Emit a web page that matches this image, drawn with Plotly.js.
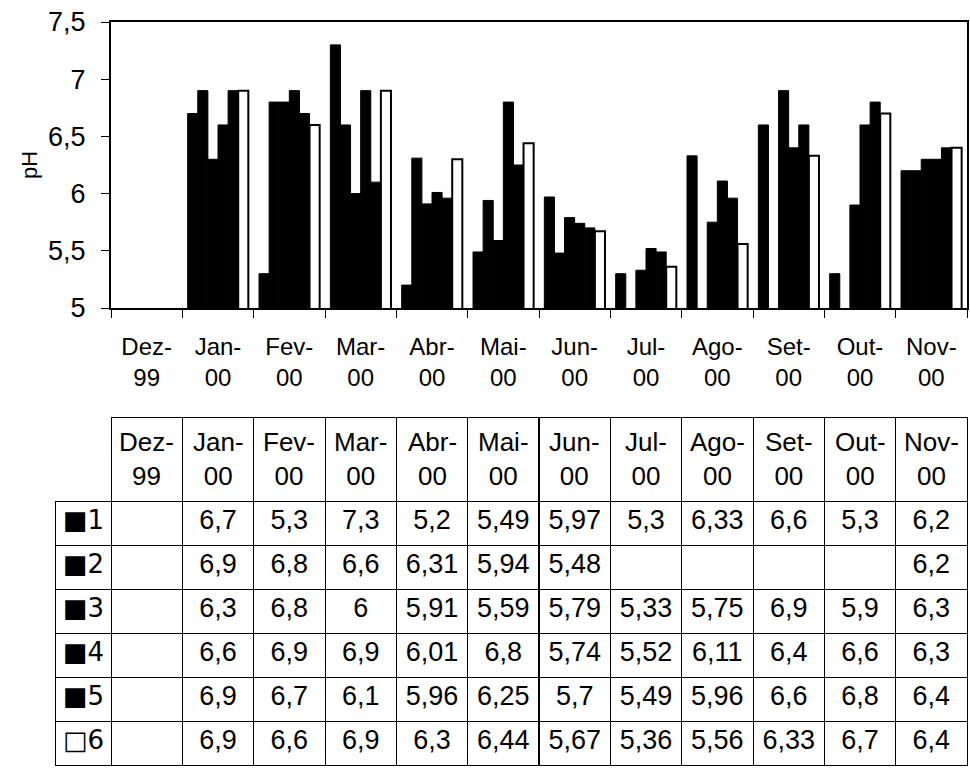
<!DOCTYPE html>
<html>
<head>
<meta charset="utf-8">
<script src="https://cdn.plot.ly/plotly-3.0.1.min.js"></script>
<style>html,body{margin:0;padding:0;background:#fff;}</style>
</head>
<body>
<div id="chart" style="width:970px;height:768px;"></div>
<script>
// ---------- data ----------
const months = ['Dez-99','Jan-00','Fev-00','Mar-00','Abr-00','Mai-00','Jun-00','Jul-00','Ago-00','Set-00','Out-00','Nov-00'];
const seriesNames = ['1','2','3','4','5','6'];
const s1 = [null, 6.7, 5.3, 7.3, 5.2, 5.49, 5.97, 5.3, 6.33, 6.6, 5.3, 6.2];
const s2 = [null, 6.9, 6.8, 6.6, 6.31, 5.94, 5.48, null, null, null, null, 6.2];
const s3 = [null, 6.3, 6.8, 6, 5.91, 5.59, 5.79, 5.33, 5.75, 6.9, 5.9, 6.3];
const s4 = [null, 6.6, 6.9, 6.9, 6.01, 6.8, 5.74, 5.52, 6.11, 6.4, 6.6, 6.3];
const s5 = [null, 6.9, 6.7, 6.1, 5.96, 6.25, 5.7, 5.49, 5.96, 6.6, 6.8, 6.4];
const s6 = [null, 6.9, 6.6, 6.9, 6.3, 6.44, 5.67, 5.36, 5.56, 6.33, 6.7, 6.4];
const yTickVals = [5, 5.5, 6, 6.5, 7, 7.5];
const yTickText = ['5', '5,5', '6', '6,5', '7', '7,5'];
const legendSymbols = ['■', '■', '■', '■', '■', '□'];

// ---------- layout constants ----------
const FONT = 'Liberation Sans, Arial, sans-serif';
const W = 970, H = 768;
const plotL = 111, plotR = 967, plotT = 22, plotB = 308;
const tableL = 55, tableT = 417, headerH = 84;
const paperH = H - plotT;

const series = [s1, s2, s3, s4, s5, s6];
const fills = ['#000', '#000', '#000', '#000', '#000', '#fff'];
const lineW = [1, 1, 1, 1, 1, 2];

const tickLabels = months.map(m => m.replace('-', '-<br>'));

const traces = series.map((s, i) => ({
  type: 'bar',
  name: seriesNames[i],
  x: months,
  y: s,
  marker: { color: fills[i], line: { color: '#000', width: lineW[i] } },
  showlegend: false,
  hoverinfo: 'skip',
  xaxis: 'x', yaxis: 'y'
}));

const fmt = v => (v === null || v === undefined) ? '' : String(v).replace('.', ',');
const colW = (plotR - plotL) / months.length;

traces.push({
  type: 'table',
  domain: { x: [tableL / W, plotR / W], y: [0, (H - tableT) / paperH] },
  columnwidth: [plotL - tableL].concat(months.map(() => colW)),
  header: {
    values: [''].concat(months.map(() => '')),
    align: 'center',
    height: headerH,
    font: { family: FONT, size: 26, color: '#000' },
    line: { color: ['rgba(0,0,0,0)'].concat(months.map(() => '#000')), width: 1 },
    fill: { color: '#fff' }
  },
  cells: {
    values: [seriesNames.map((n, i) => legendSymbols[i] + n)]
      .concat(months.map((m, j) => series.map(s => fmt(s[j])))),
    align: ['left'].concat(months.map(() => 'center')),
    height: 44,
    font: {
      family: ['DejaVu Sans'].concat(months.map(() => FONT)),
      size: [26].concat(months.map(() => 27)),
      color: '#000'
    },
    line: { color: '#000', width: 1 },
    fill: { color: '#fff' }
  }
});

// table header text (centred line by line), placed on the month categories
const headerAnn = months.map((m, j) => ({
  xref: 'x', yref: 'paper',
  x: m, y: (H - tableT - headerH / 2) / paperH,
  xanchor: 'center', yanchor: 'middle', align: 'center',
  text: tickLabels[j], showarrow: false,
  font: { family: FONT, size: 26, color: '#000' }
}));

const layout = {
  width: W, height: H,
  margin: { l: 0, r: 0, t: plotT, b: 0 },
  paper_bgcolor: '#fff', plot_bgcolor: '#fff',
  separators: ',.',
  font: { family: FONT, color: '#000' },
  barmode: 'group',
  bargap: 0.15,
  bargroupgap: 0,
  showlegend: false,
  annotations: headerAnn,
  xaxis: {
    domain: [plotL / W, plotR / W],
    type: 'category',
    tickvals: months,
    ticktext: tickLabels,
    tickson: 'boundaries',
    ticks: 'outside', ticklen: 8, tickwidth: 1, tickcolor: '#000',
    ticklabelstandoff: 16,
    showline: true, mirror: true, linecolor: '#000', linewidth: 2,
    showgrid: false, zeroline: false,
    tickfont: { family: FONT, size: 24, color: '#000' },
    automargin: false
  },
  yaxis: {
    domain: [(H - plotB) / paperH, 1],
    range: [5, 7.5],
    tickvals: yTickVals,
    ticktext: yTickText,
    ticks: 'outside', ticklen: 8, tickwidth: 1, tickcolor: '#000',
    ticklabelstandoff: 10,
    showline: true, mirror: true, linecolor: '#000', linewidth: 2,
    showgrid: false, zeroline: false,
    tickfont: { family: FONT, size: 27, color: '#000' },
    title: { text: 'pH', font: { family: FONT, size: 22, color: '#000' }, standoff: 4 },
    automargin: false
  }
};

Plotly.newPlot('chart', traces, layout, { displayModeBar: false, staticPlot: true });
</script>
</body>
</html>
